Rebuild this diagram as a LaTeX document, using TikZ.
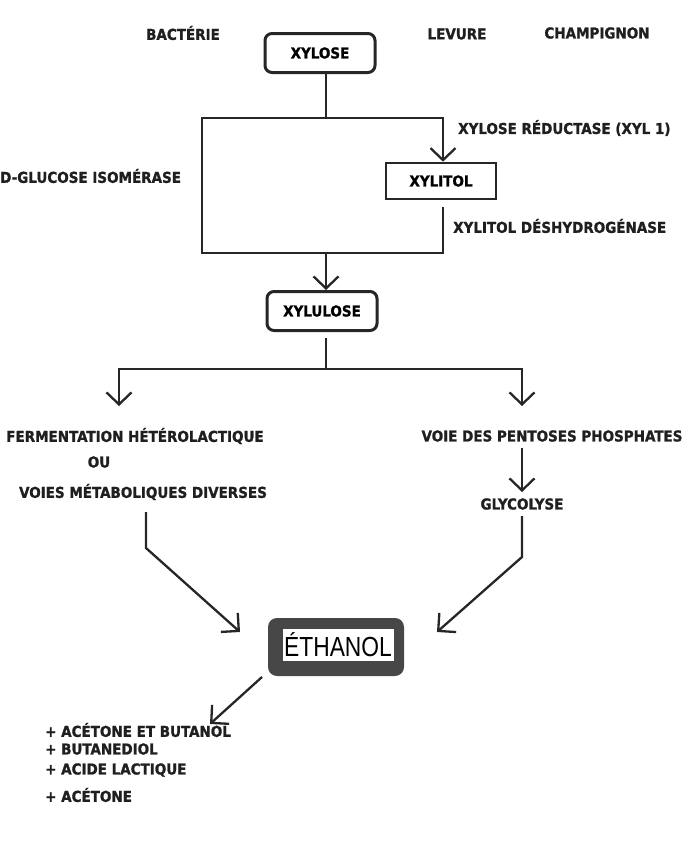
\documentclass[tikz,border=0pt]{standalone}
\usepackage{fontspec}
\setmainfont{DejaVu Sans Condensed}[BoldFont={DejaVu Sans Condensed Bold},BoldFeatures={FakeBold=1.2}]
\newfontfamily\ethfont{Liberation Sans}
\usetikzlibrary{arrows.meta}
\begin{document}
\begin{tikzpicture}[x=1pt,y=-1pt,
  lbl/.style={font=\fontsize{15}{17}\selectfont\bfseries, inner sep=0pt, text=black!88},
  roundbox/.style={draw=black!85, line width=3pt, rounded corners=7pt, minimum width=110pt, minimum height=39pt, font=\fontsize{15}{17}\selectfont\bfseries},
  sqbox/.style={draw=black!85, line width=2.6pt, minimum width=110pt, minimum height=36pt, font=\fontsize{15}{17}\selectfont\bfseries},
  ln/.style={line width=2.3pt, draw=black!85},
  arr/.style={ln, -{Straight Barb[length=12pt,width=25pt,line width=2.3pt]}},
  carr/.style={ln, -{Straight Barb[length=12pt,width=24pt,angle=90:18pt,line width=2.3pt]}}
]
\useasboundingbox (0,0) rectangle (684,846);

% header
\node[lbl] (bac) at (183,33) {BACTÉRIE};
\node[lbl] (lev) at (457,34) {LEVURE};
\node[lbl] (cha) at (597,33) {CHAMPIGNON};

\node[roundbox] (xylose) at (320,53) {XYLOSE};

% main box
\coordinate (tl) at (202,118);
\coordinate (tm) at (326,118);
\coordinate (tr) at (443,118);
\coordinate (bl) at (202,253);
\coordinate (bm) at (326,253);
\coordinate (br) at (443,253);
\coordinate (xs) at (326,73);
\draw[ln] (xs) -- (tm);
\draw[ln, line cap=rect] (tr) -- (tl) -- (bl) -- (br);

\node[sqbox] (xylitol) at (441,181) {XYLITOL};
\draw[arr] (tr) -- (xylitol.north -| tr);
\coordinate (xb) at (443,207);
\draw[ln] (xb) -- (br);

\node[lbl, anchor=west] (xr) at (458,128) {XYLOSE RÉDUCTASE (XYL 1)};
\node[lbl, anchor=west] (xd) at (453,226) {XYLITOL DÉSHYDROGÉNASE};
\node[lbl, anchor=west] (dg) at (0,176) {D-GLUCOSE ISOMÉRASE};

\node[roundbox] (xylulose) at (322,311) {XYLULOSE};
\draw[arr] (bm) -- (xylulose.north -| bm);

\coordinate (xu) at (326,338);
\coordinate (hm) at (326,369);
\coordinate (hl) at (119,369);
\coordinate (hr) at (522,369);
\coordinate (al) at (119,406);
\coordinate (ar) at (522,406);
\draw[ln] (xu) -- (hm);
\draw[arr] (hm) -- (hl) -- (al);
\draw[arr] (hm) -- (hr) -- (ar);

\node[lbl] (ferm) at (135,436) {FERMENTATION HÉTÉROLACTIQUE};
\node[lbl] (ou) at (99,462) {OU};
\node[lbl] (voies) at (143,492) {VOIES MÉTABOLIQUES DIVERSES};
\node[lbl] (pent) at (552,436) {VOIE DES PENTOSES PHOSPHATES};
\node[lbl] (gly) at (522,504) {GLYCOLYSE};
\draw[arr, line width=2.8pt] (pent.south -| gly) ++(0,6) coordinate (p1) -- (522,492) coordinate (p2);

% ethanol
\node[fill=black!72, rounded corners=9pt, minimum width=136pt, minimum height=58pt] (ethbg) at (336,647) {};
\node[fill=white, minimum width=111pt, minimum height=32pt, inner sep=0pt, font=\ethfont\fontsize{24}{26}\selectfont] (eth) at (338,645) {\scalebox{0.95}[1.15]{ÉTHANOL}};

\coordinate (vl1) at (146,512);
\coordinate (vl2) at (146,548);
\coordinate (vl3) at (240,632);
\draw[carr] (vl1) -- (vl2) -- (vl3);
\coordinate (gr1) at (522,516);
\coordinate (gr2) at (522,557);
\coordinate (gr3) at (437,632);
\draw[carr] (gr1) -- (gr2) -- (gr3);

\coordinate (eo) at (262,677);
\coordinate (ee) at (210,724);
\draw[carr] (eo) -- (ee);

\node[lbl, anchor=west] (l1) at (45,730) {+ ACÉTONE ET BUTANOL};
\node[lbl, anchor=west] (l2) at (45,749) {+ BUTANEDIOL};
\node[lbl, anchor=west] (l3) at (45,770) {+ ACIDE LACTIQUE};
\node[lbl, anchor=west] (l4) at (45,795) {+ ACÉTONE};
\end{tikzpicture}
\end{document}
